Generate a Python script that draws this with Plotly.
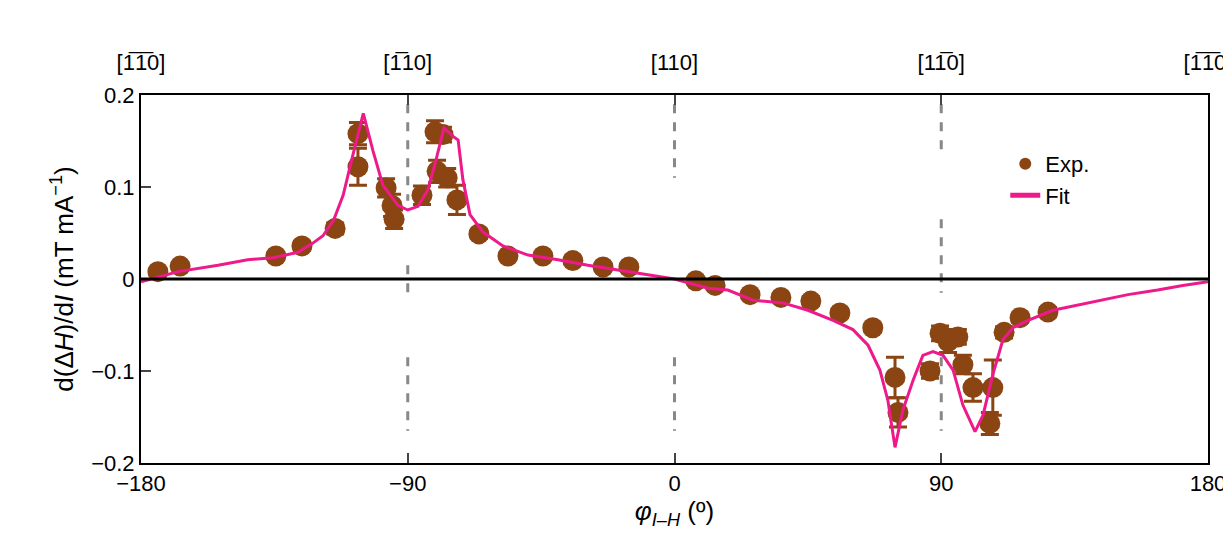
import plotly.graph_objects as go

exp_x = [-174.3, -166.8, -134.5, -125.7, -114.5, -106.8, -106.8, -97.3, -95.3, -94.6, -85.2, -80.8, -78.1, -80.1, -76.7, -73.4, -66.0, -56.2, -44.4, -34.3, -24.1, -15.4,
         7.2, 13.7, 25.5, 35.9, 46.0, 55.8, 66.9, 74.4, 75.4, 86.2, 89.6, 92.3, 95.6, 97.3, 100.7, 106.4, 107.4, 111.2, 116.6, 126.0]
exp_y = [0.008, 0.014, 0.025, 0.036, 0.055, 0.158, 0.122, 0.099, 0.080, 0.065, 0.091, 0.160, 0.157, 0.117, 0.110, 0.086, 0.049, 0.025, 0.025, 0.020, 0.013, 0.013,
         -0.002, -0.007, -0.017, -0.020, -0.024, -0.037, -0.053, -0.107, -0.145, -0.100, -0.059, -0.068, -0.063, -0.093, -0.118, -0.157, -0.118, -0.058, -0.042, -0.036]
exp_err = [0.004, 0.004, 0.004, 0.005, 0.006, 0.012, 0.02, 0.01, 0.012, 0.01, 0.01, 0.012, 0.008, 0.012, 0.01, 0.016, 0.005, 0.004, 0.004, 0.004, 0.004, 0.004,
           0.004, 0.004, 0.004, 0.004, 0.005, 0.005, 0.005, 0.022, 0.016, 0.008, 0.008, 0.012, 0.008, 0.01, 0.015, 0.012, 0.03, 0.006, 0.005, 0.005]

fit_x = [-180, -167.5, -154, -144, -135.5, -127, -122, -118.6, -115, -111.8, -108.5, -105, -101.7, -98.4, -93.3, -90, -86.5, -83.2, -80.5, -77.8, -74.7, -73, -71.4, -69, -64.6, -57.9, -49.4, -39.3, -29.2, -19, -9, 0,
         11.3, 18, 26.5, 36.6, 45, 53.5, 60.2, 65.3, 69.3, 72, 74.4, 77.1, 80.5, 83.8, 87.2, 90.6, 94, 97.3, 101.4, 104.1, 107.4, 110.8, 114.2, 119.3, 127.7, 139.5, 146.2, 153, 163, 171.5, 180]
fit_y = [-0.003, 0.008, 0.015, 0.021, 0.023, 0.029, 0.039, 0.047, 0.064, 0.091, 0.135, 0.180, 0.139, 0.102, 0.080, 0.075, 0.079, 0.097, 0.129, 0.164, 0.155, 0.151, 0.108, 0.070, 0.051, 0.036, 0.026, 0.021, 0.015, 0.010, 0.005, 0.0,
         -0.010, -0.012, -0.023, -0.026, -0.034, -0.045, -0.055, -0.072, -0.099, -0.132, -0.183, -0.142, -0.110, -0.083, -0.079, -0.083, -0.099, -0.137, -0.166, -0.148, -0.104, -0.066, -0.053, -0.045, -0.034, -0.026, -0.021, -0.017, -0.012, -0.007, -0.003]

top_vals = [-180, -90, 0, 90, 180]
top_labels = ["[1\u03051\u03050]", "[1\u030510]", "[110]", "[11\u03050]", "[1\u03051\u03050]"]

dash_x = [-90, -90, -90, 0, 0, 90, 90, 90]
dash_y0 = [0.19, 0.015, -0.085, 0.19, -0.085, 0.19, 0.065, -0.085]
dash_y1 = [0.085, -0.015, -0.165, 0.11, -0.165, 0.14, -0.015, -0.165]

BROWN = "#8B4513"
PINK = "#EE1A8A"
FONT = "Liberation Sans"

fig = go.Figure()
for x, a, b in zip(dash_x, dash_y0, dash_y1):
    fig.add_shape(type="line", x0=x, x1=x, y0=a, y1=b, line=dict(color="#888888", width=3, dash="dash"), layer="below")
fig.add_shape(type="line", x0=-180, x1=180, y0=0, y1=0, line=dict(color="black", width=3))

fig.add_trace(go.Scatter(x=exp_x, y=exp_y, mode="markers", name="Exp.",
                         marker=dict(color=BROWN, size=21),
                         error_y=dict(type="data", array=exp_err, color=BROWN, thickness=3, width=9)))
fig.add_trace(go.Scatter(x=fit_x, y=fit_y, mode="lines", name="Fit", line=dict(color=PINK, width=3)))
fig.add_trace(go.Scatter(x=top_vals, y=[None]*5, xaxis="x2", showlegend=False, hoverinfo="skip"))

fig.update_layout(
    width=1231, height=534, margin=dict(l=133, r=31, t=87, b=79),
    plot_bgcolor="white", paper_bgcolor="white",
    font=dict(family=FONT, size=22, color="black"),
    xaxis=dict(range=[-180, 180], tickvals=[-180, -90, 0, 90, 180], ticktext=["\u2212180", "\u221290", "0", "90", "180"],
               ticks="inside", ticklen=10, tickwidth=2, showline=True, linecolor="black", linewidth=2,
               showgrid=False, zeroline=False, automargin=False,
               title=dict(text="<i>\u03c6</i><sub><i>I\u2013H</i></sub> (\u00ba)", standoff=4)),
    xaxis2=dict(range=[-180, 180], overlaying="x", side="top", tickvals=top_vals, ticktext=top_labels,
                ticks="inside", ticklen=10, tickwidth=2, showline=True, linecolor="black", linewidth=2,
                showgrid=False, zeroline=False, automargin=False, ticklabelstandoff=14),
    yaxis=dict(range=[-0.2, 0.2], tickvals=[-0.2, -0.1, 0, 0.1, 0.2], ticktext=["\u22120.2", "\u22120.1", "0", "0.1", "0.2"],
               ticks="inside", ticklen=10, tickwidth=2, showline=True, linecolor="black", linewidth=2, mirror=True,
               showgrid=False, zeroline=False, automargin=False,
               title=dict(text="d(\u0394<i>H</i>)/d<i>I</i> (mT mA<sup>\u22121</sup>)", standoff=10)),
    legend=dict(x=0.81, y=0.87, xanchor="left", yanchor="top", bgcolor="rgba(0,0,0,0)", font=dict(size=22),
                itemsizing="constant", tracegroupgap=30),
)
fig.write_html("out.html")
